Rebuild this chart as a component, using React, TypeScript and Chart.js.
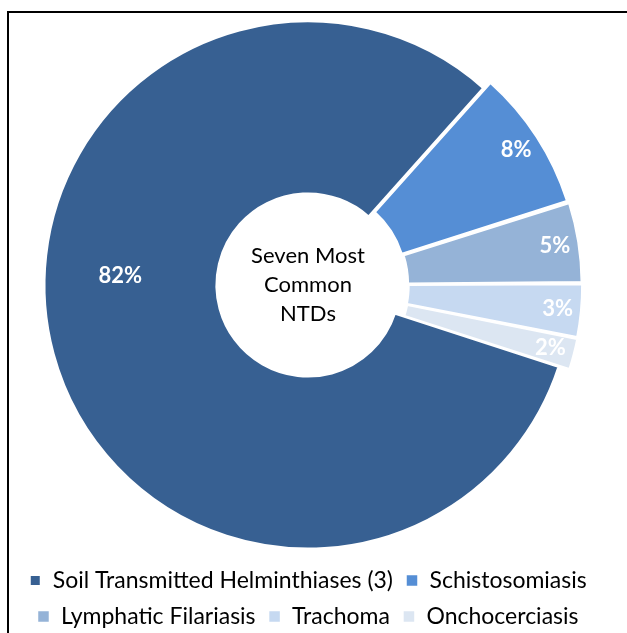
import React, { useEffect, useRef } from 'react';
import { Chart, registerables } from 'chart.js';

Chart.register(...registerables);

const categories = [
  'Soil Transmitted Helminthiases (3)',
  'Schistosomiasis',
  'Lymphatic Filariasis',
  'Trachoma',
  'Onchocerciasis',
];
const shares = [81.6, 8.5, 4.8, 3.2, 1.9];
const percentLabels = ['82%', '8%', '5%', '3%', '2%'];
const centerLines = ['Seven Most', 'Common', 'NTDs'];
const sliceColors = ['#376092', '#558ED5', '#95B3D7', '#C6D9F1', '#DCE6F2'];
const explode = [0, 22, 22, 22, 22];
const edgeWidths = [3, 1.5, 1.5, 1.5, 1.5];

const FONT = 'Lato, "Open Sans", sans-serif';

const labelPlugin = {
  id: 'sliceLabels',
  afterDatasetsDraw(chart: any) {
    const meta = chart.getDatasetMeta(0);
    const ctx = chart.ctx;
    ctx.save();
    ctx.textAlign = 'center';
    ctx.textBaseline = 'middle';
    let cx = 0;
    let cy = 0;
    meta.data.forEach((arc: any, i: number) => {
      const p = arc.getProps(['x', 'y', 'startAngle', 'endAngle', 'innerRadius', 'outerRadius'], true);
      cx = p.x;
      cy = p.y;
      // mirror Chart.js arc offset handling (translation = offset/4, radii grow by translation * fix)
      const t = explode[i] / 4;
      const circ = p.endAngle - p.startAngle;
      const fix = 1 - Math.sin(Math.min(Math.PI, circ));
      const grow = t * fix;
      const mid = (p.startAngle + p.endAngle) / 2;
      const ox = p.x + Math.cos(mid) * t;
      const oy = p.y + Math.sin(mid) * t;
      const outer = p.outerRadius + grow;
      const inner = p.innerRadius + grow;
      ctx.font = `bold 22px ${FONT}`;
      ctx.fillStyle = '#ffffff';
      const text = percentLabels[i];
      const w = ctx.measureText(text).width;
      const h = 16;
      let ang = mid;
      let r: number;
      if (i === 0) {
        ang = mid + (18 * Math.PI) / 180;
        r = inner + 0.56 * (outer - inner);
      } else {
        r = outer - 0.5 * (w * Math.abs(Math.cos(mid)) + h * Math.abs(Math.sin(mid))) - 7;
      }
      ctx.fillText(text, ox + Math.cos(ang) * r, oy + Math.sin(ang) * r);
    });
    ctx.font = `22px ${FONT}`;
    ctx.fillStyle = '#000000';
    centerLines.forEach((line, k) => {
      ctx.fillText(line, cx, cy + (k - 1) * 29);
    });
    ctx.restore();
  },
};

export default function App() {
  const ref = useRef<HTMLCanvasElement | null>(null);
  useEffect(() => {
    if (!ref.current) return;
    const chart = new Chart(ref.current, {
      type: 'doughnut',
      data: {
        labels: categories,
        datasets: [
          {
            data: shares,
            backgroundColor: sliceColors,
            borderColor: '#ffffff',
            borderWidth: edgeWidths,
            offset: explode,
            hoverOffset: 0,
          } as any,
        ],
      },
      options: {
        responsive: false,
        animation: false,
        rotation: 108,
        radius: 264,
        cutout: '34.5%',
        layout: { padding: { top: 14, left: 0, right: 11, bottom: 7 } },
        plugins: {
          legend: {
            position: 'bottom',
            labels: {
              boxWidth: 12,
              boxHeight: 12,
              padding: 13,
              color: '#000000',
              font: { family: FONT, size: 23 },
            },
          },
          tooltip: { enabled: false },
        },
      } as any,
      plugins: [labelPlugin],
    });
    return () => chart.destroy();
  }, []);
  return (
    <div style={{ position: 'absolute', left: 0, top: 0, width: 627, height: 633, overflow: 'hidden', background: '#fff' }}>
      <div
        style={{
          position: 'absolute',
          left: 7,
          top: 11,
          width: 620,
          height: 622,
          borderTop: '2px solid #000',
          borderLeft: '2px solid #000',
          boxSizing: 'border-box',
        }}
      />
      <canvas ref={ref} width={627} height={645} style={{ position: 'absolute', left: 0, top: 0 }} />
    </div>
  );
}
